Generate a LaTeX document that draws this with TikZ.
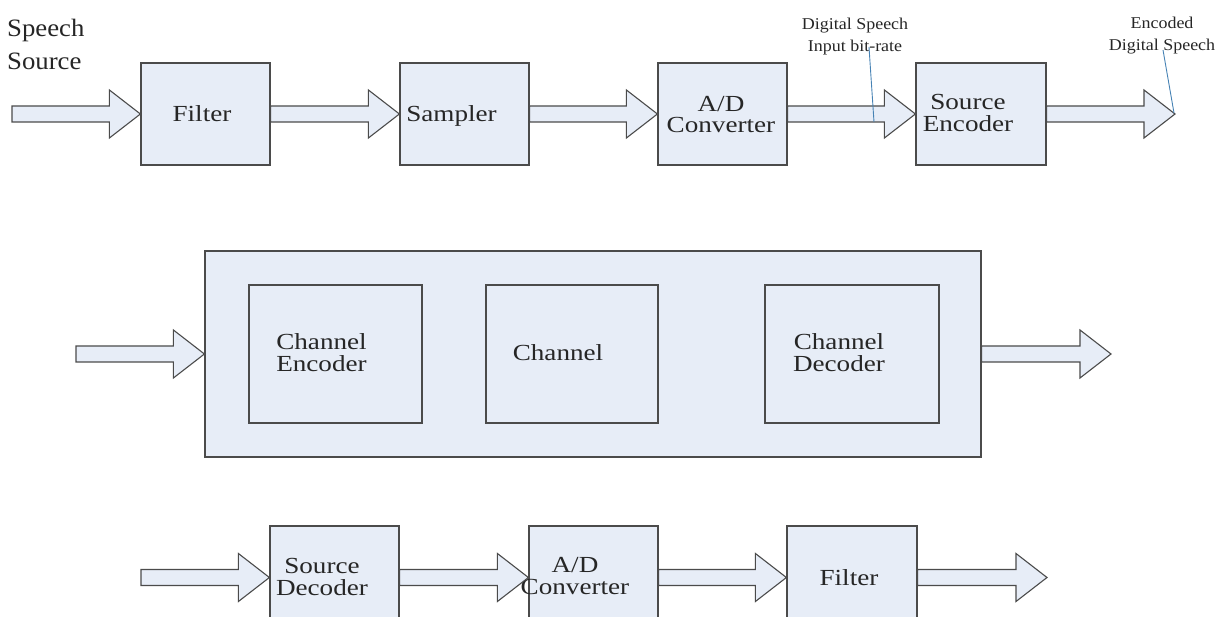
\documentclass[tikz,border=0pt]{standalone}
\usepackage{fontspec}
\setmainfont{Liberation Serif}
\usetikzlibrary{calc}

\definecolor{boxfill}{RGB}{231,237,247}
\definecolor{boxline}{RGB}{75,75,75}
\definecolor{callout}{RGB}{70,130,180}

% text inside the blocks: slightly widened serif
\newcommand{\blocktext}[1]{\fontsize{23}{21}\selectfont\scalebox{1.18}[1]{\begin{tabular}{@{}c@{}}#1\end{tabular}}}
% small callout text
\newcommand{\notetext}[1]{\fontsize{16.5}{22}\selectfont\scalebox{1.09}[1]{\begin{tabular}{@{}c@{}}#1\end{tabular}}}

% hollow block arrow from the x of #1 to the point #2 (at the height of #2)
\newcommand{\blockarrow}[2]{%
  \draw[barrow] let \p1=(#1), \p2=(#2) in
    (\x1,\y2+8pt) -- (\x2-31pt,\y2+8pt) -- (\x2-31pt,\y2+24pt) -- (\x2,\y2)
    -- (\x2-31pt,\y2-24pt) -- (\x2-31pt,\y2-8pt) -- (\x1,\y2-8pt) -- cycle;}

\tikzset{
  blk/.style={draw=boxline, fill=boxfill, line width=1.2pt, inner sep=0pt, rectangle},
  inner/.style={draw=boxline, line width=1.2pt, inner sep=0pt, rectangle},
  barrow/.style={draw=boxline, fill=boxfill, line width=1.1pt, line join=miter},
  lbl/.style={inner sep=0pt, text=black!85},
  note/.style={draw=callout, line width=0.9pt},
}

\begin{document}
\begin{tikzpicture}[x=1pt, y=-1pt]
\useasboundingbox (0,0) rectangle (1221,617);
\clip (0,0) rectangle (1221,617);

% ---------------- transmitter chain ----------------
\node[lbl, anchor=west] (srclbl) at (7,46)
  {\fontsize{25}{33}\selectfont\scalebox{1.07}[1]{\begin{tabular}{@{}l@{}}Speech\\Source\end{tabular}}};

\node[blk, minimum width=129pt, minimum height=102pt] (filt1) at (205.5,114) {};
\node[blk, minimum width=129pt, minimum height=102pt] (samp)  at (464.5,114) {};
\node[blk, minimum width=129pt, minimum height=102pt] (adc1)  at (722.5,114) {};
\node[blk, minimum width=130pt, minimum height=102pt] (senc)  at (981,114) {};

\node[lbl] (filt1t) at (202,116.5)   {\blocktext{Filter}};
\node[lbl] (sampt)  at (451.5,116.5) {\blocktext{Sampler}};
\node[lbl] (adc1t)  at (721,117.5)   {\blocktext{A/D\\Converter}};
\node[lbl] (senct)  at (968,116)     {\blocktext{Source\\Encoder}};

\coordinate (in1)  at (12,114);
\coordinate (out1) at (1175,114);
\blockarrow{in1}{filt1.west}
\blockarrow{filt1.east}{samp.west}
\blockarrow{samp.east}{adc1.west}
\blockarrow{adc1.east}{senc.west}
\blockarrow{senc.east}{out1}

% callouts
\node[lbl] (note1) at (855,36) {\notetext{Digital Speech\\Input bit-rate}};
\node[lbl] (note2) at (1162,35.5) {\notetext{Encoded\\Digital Speech}};
\coordinate (n1a) at (869,47);
\coordinate (n1b) at (874,122);
\coordinate (n2a) at (1163,50);
\coordinate (n2b) at (1174,113);
\draw[note] (n1a) -- (n1b);
\draw[note] (n2a) -- (n2b);

% ---------------- channel ----------------
\node[blk, minimum width=776pt, minimum height=206pt] (chan) at (593,354) {};
\node[inner, minimum width=173pt, minimum height=138pt] (cenc) at (335.5,354) {};
\node[inner, minimum width=172pt, minimum height=138pt] (chn)  at (572,354) {};
\node[inner, minimum width=174pt, minimum height=138pt] (cdec) at (852,354) {};

\node[lbl] (denct) at (321.5,356) {\blocktext{Channel\\Encoder}};
\node[lbl] (chnt)  at (558,355.5) {\blocktext{Channel}};
\node[lbl] (cdect) at (839,356)   {\blocktext{Channel\\Decoder}};

\coordinate (in2)  at (76,354);
\coordinate (out2) at (1111,354);
\blockarrow{in2}{chan.west}
\blockarrow{chan.east}{out2}

% ---------------- receiver chain ----------------
\node[blk, minimum width=129pt, minimum height=103pt] (sdec)  at (334.5,577.5) {};
\node[blk, minimum width=129pt, minimum height=103pt] (adc2)  at (593.5,577.5) {};
\node[blk, minimum width=130pt, minimum height=103pt] (filt2) at (852,577.5) {};

\node[lbl] (sdect)  at (322,580) {\blocktext{Source\\Decoder}};
\node[lbl] (adc2t)  at (575,579) {\blocktext{A/D\\Converter}};
\node[lbl] (filt2t) at (849,580.5) {\blocktext{Filter}};

\coordinate (in3)  at (141,577.5);
\coordinate (out3) at (1047,577.5);
\blockarrow{in3}{sdec.west}
\blockarrow{sdec.east}{adc2.west}
\blockarrow{adc2.east}{filt2.west}
\blockarrow{filt2.east}{out3}
\end{tikzpicture}
\end{document}
